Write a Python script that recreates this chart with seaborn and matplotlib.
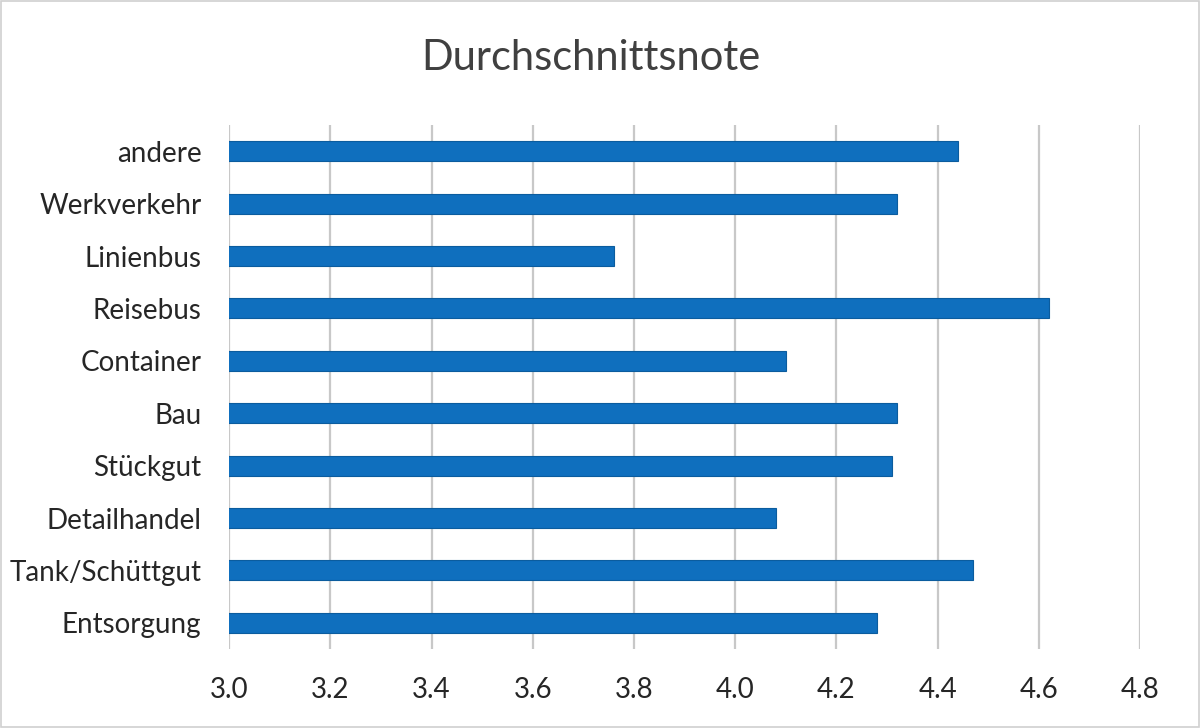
import matplotlib
matplotlib.use('Agg')
import matplotlib.pyplot as plt
import seaborn as sns
import pandas as pd

categories = ['andere', 'Werkverkehr', 'Linienbus', 'Reisebus', 'Container',
              'Bau', 'Stückgut', 'Detailhandel', 'Tank/Schüttgut', 'Entsorgung']
scores = [4.44, 4.32, 3.76, 4.62, 4.10, 4.32, 4.31, 4.08, 4.47, 4.28]
x_ticks = [3.0, 3.2, 3.4, 3.6, 3.8, 4.0, 4.2, 4.4, 4.6, 4.8]


def main():
    sns.set_style('white')
    plt.rcParams['font.family'] = ['Lato', 'DejaVu Sans']

    df = pd.DataFrame({'Kategorie': categories, 'Note': scores})

    fig = plt.figure(figsize=(12, 7.28), dpi=100)
    ax = fig.add_axes([0.191, 0.1085, 0.759, 0.7197])

    sns.barplot(data=df, x='Note', y='Kategorie', order=categories,
                orient='h', color='#0F6FBE', saturation=1, width=0.38,
                edgecolor='#0B5C9E', linewidth=0.8, ax=ax)

    ax.set_xlim(3.0, 4.8)
    ax.set_xticks(x_ticks)
    ax.set_xticklabels([f'{t:.1f}' for t in x_ticks])
    ax.xaxis.grid(True, color='#C8C8C8', linewidth=1.6)
    ax.set_axisbelow(True)
    for s in ax.spines.values():
        s.set_visible(False)
    ax.tick_params(axis='both', length=0, labelsize=20, colors='#262626')
    ax.tick_params(axis='y', pad=20)
    ax.tick_params(axis='x', pad=20)
    ax.set_xlabel('')
    ax.set_ylabel('')

    fig.text(0.4925, 0.92, 'Durchschnittsnote', ha='center', va='center',
             fontsize=30, color='#404040')

    border = plt.Rectangle((0.001, 0.001), 0.998, 0.998, transform=fig.transFigure,
                           fill=False, edgecolor='#D0D0D0', linewidth=1.2)
    fig.patches.append(border)

    fig.savefig('out.png', dpi=100)


if __name__ == '__main__':
    main()
